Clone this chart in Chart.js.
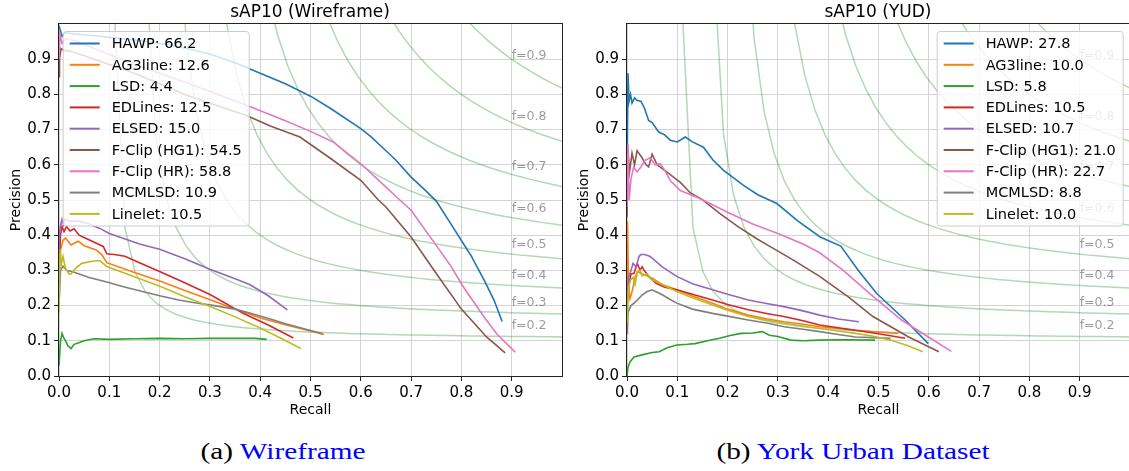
<!DOCTYPE html>
<html>
<head>
<meta charset="utf-8">
<script src="https://cdn.jsdelivr.net/npm/chart.js@4.4.0/dist/chart.umd.min.js"></script>
<style>
  body { margin: 0; background: #fff; width: 1129px; height: 471px; overflow: hidden; position: relative; font-family: "DejaVu Sans"; }
  canvas { position: absolute; top: 0; }
  #c1 { left: 0; width: 565px; height: 420px; }
  #c2 { left: 567px; width: 566px; height: 420px; }
  .ttl { position: absolute; top: 1px; font-size: 17px; line-height: 20px; white-space: nowrap; transform: translateX(-50%); }
  .cap { position: absolute; top: 437px; font-family: "Liberation Serif"; font-size: 24px; line-height: 28px; white-space: nowrap; transform: translateX(-50%) scaleX(1.22); }
  .cap span { color: #0000ff; }
</style>
</head>
<body>
<canvas id="c1" width="565" height="420"></canvas>
<canvas id="c2" width="566" height="420"></canvas>
<div class="ttl" style="left:310px">sAP10 (Wireframe)</div>
<div class="ttl" style="left:878px">sAP10 (YUD)</div>
<div class="cap" style="left:283px">(a) <span>Wireframe</span></div>
<div class="cap" style="left:853px">(b) <span>York Urban Dataset</span></div>
<script>
// methods, scores and colours
var methods = ["HAWP", "AG3line", "LSD", "EDLines", "ELSED", "F-Clip (HG1)", "F-Clip (HR)", "MCMLSD", "Linelet"];
var colors = ["#1f77b4", "#ff7f0e", "#2ca02c", "#d62728", "#9467bd", "#8c564b", "#e377c2", "#7f7f7f", "#bcbd22"];
var wfScores = [66.2, 12.6, 4.4, 12.5, 15.0, 54.5, 58.8, 10.9, 10.5];
var yudScores = [27.8, 10.0, 5.8, 10.5, 10.7, 21.0, 22.7, 8.8, 10.0];
var fScores = [0.2, 0.3, 0.4, 0.5, 0.6, 0.7, 0.8, 0.9];
var tickValues = [0, 0.1, 0.2, 0.3, 0.4, 0.5, 0.6, 0.7, 0.8, 0.9];

// Wireframe curves, [recall, precision]
var wfHAWP = [[0,0.995],[0.006,0.965],[0.012,0.975],[0.03,0.972],[0.06,0.968],[0.1,0.962],[0.15,0.955],[0.2,0.945],[0.25,0.932],[0.3,0.915],[0.35,0.89],[0.4,0.86],[0.45,0.83],[0.5,0.795],[0.54,0.76],[0.6,0.703],[0.62,0.68],[0.65,0.64],[0.67,0.613],[0.7,0.565],[0.73,0.525],[0.75,0.497],[0.78,0.43],[0.8,0.385],[0.82,0.34],[0.846,0.27],[0.865,0.215],[0.881,0.155]];
var wfAG3line = [[0,0.25],[0.003,0.36],[0.008,0.385],[0.013,0.392],[0.024,0.372],[0.038,0.383],[0.05,0.37],[0.074,0.358],[0.085,0.345],[0.095,0.322],[0.15,0.294],[0.202,0.269],[0.25,0.243],[0.302,0.216],[0.35,0.19],[0.402,0.164],[0.452,0.145],[0.527,0.118]];
var wfLSD = [[0,0.03],[0.003,0.1],[0.006,0.121],[0.009,0.11],[0.013,0.1],[0.018,0.085],[0.024,0.078],[0.03,0.09],[0.038,0.094],[0.05,0.1],[0.07,0.106],[0.1,0.104],[0.15,0.106],[0.2,0.107],[0.25,0.106],[0.3,0.107],[0.35,0.107],[0.39,0.107],[0.413,0.104]];
var wfEDLines = [[0,0.3],[0.003,0.4],[0.006,0.425],[0.01,0.41],[0.015,0.425],[0.022,0.412],[0.03,0.418],[0.04,0.4],[0.052,0.392],[0.07,0.38],[0.088,0.368],[0.095,0.347],[0.11,0.345],[0.131,0.34],[0.16,0.322],[0.2,0.297],[0.25,0.265],[0.302,0.23],[0.366,0.178],[0.416,0.145],[0.466,0.108]];
var wfELSED = [[0,0.36],[0.002,0.42],[0.006,0.445],[0.009,0.43],[0.012,0.447],[0.02,0.44],[0.04,0.44],[0.06,0.432],[0.08,0.42],[0.1,0.405],[0.13,0.39],[0.16,0.375],[0.2,0.36],[0.25,0.333],[0.3,0.303],[0.35,0.276],[0.38,0.259],[0.416,0.228],[0.454,0.188]];
var wfFClipHG1 = [[0,0.85],[0.001,0.9],[0.004,0.93],[0.01,0.925],[0.025,0.922],[0.06,0.905],[0.1,0.885],[0.15,0.86],[0.2,0.83],[0.25,0.8],[0.3,0.775],[0.373,0.74],[0.42,0.71],[0.479,0.679],[0.538,0.62],[0.6,0.556],[0.635,0.5],[0.65,0.48],[0.7,0.395],[0.75,0.291],[0.8,0.19],[0.85,0.111],[0.887,0.066]];
var wfFClipHR = [[0,0.9],[0.002,0.97],[0.006,0.945],[0.012,0.958],[0.03,0.953],[0.08,0.925],[0.15,0.885],[0.2,0.86],[0.25,0.835],[0.3,0.808],[0.373,0.769],[0.45,0.725],[0.5,0.695],[0.545,0.665],[0.6,0.603],[0.64,0.55],[0.67,0.51],[0.7,0.471],[0.75,0.371],[0.78,0.31],[0.803,0.255],[0.843,0.172],[0.87,0.12],[0.907,0.068]];
var wfMCMLSD = [[0,0.2],[0.003,0.3],[0.008,0.312],[0.015,0.3],[0.03,0.295],[0.06,0.28],[0.095,0.267],[0.13,0.253],[0.166,0.24],[0.2,0.228],[0.238,0.216],[0.27,0.208],[0.309,0.2],[0.35,0.19],[0.381,0.178],[0.42,0.162],[0.452,0.148],[0.524,0.12]];
var wfLinelet = [[0,0.18],[0.002,0.36],[0.005,0.32],[0.008,0.34],[0.013,0.305],[0.02,0.29],[0.024,0.29],[0.031,0.303],[0.045,0.32],[0.066,0.326],[0.081,0.328],[0.095,0.311],[0.131,0.292],[0.202,0.254],[0.25,0.225],[0.302,0.197],[0.35,0.168],[0.402,0.135],[0.44,0.108],[0.481,0.078]];

// YUD curves, [recall, precision]
var yudHAWP = [[0,0.55],[0.002,0.86],[0.004,0.78],[0.007,0.8],[0.01,0.775],[0.015,0.79],[0.02,0.783],[0.028,0.78],[0.035,0.76],[0.043,0.726],[0.05,0.72],[0.063,0.693],[0.075,0.685],[0.086,0.67],[0.1,0.665],[0.116,0.679],[0.13,0.665],[0.152,0.65],[0.17,0.615],[0.192,0.584],[0.231,0.542],[0.26,0.515],[0.298,0.49],[0.34,0.44],[0.384,0.395],[0.425,0.369],[0.46,0.3],[0.496,0.235],[0.553,0.159],[0.599,0.092]];
var yudAG3line = [[0,0.12],[0.001,0.44],[0.003,0.25],[0.006,0.22],[0.011,0.245],[0.016,0.28],[0.021,0.297],[0.03,0.29],[0.04,0.285],[0.05,0.278],[0.07,0.26],[0.099,0.245],[0.13,0.227],[0.17,0.207],[0.2,0.19],[0.241,0.173],[0.28,0.162],[0.312,0.154],[0.35,0.147],[0.383,0.14],[0.42,0.135],[0.454,0.13],[0.5,0.125],[0.539,0.121]];
var yudLSD = [[0,0],[0.002,0.026],[0.006,0.04],[0.014,0.054],[0.03,0.06],[0.05,0.067],[0.064,0.069],[0.08,0.08],[0.099,0.088],[0.12,0.09],[0.135,0.092],[0.16,0.1],[0.184,0.107],[0.205,0.115],[0.227,0.121],[0.25,0.122],[0.269,0.126],[0.283,0.116],[0.3,0.112],[0.326,0.102],[0.35,0.1],[0.383,0.102],[0.43,0.103],[0.493,0.102]];
var yudEDLines = [[0,0.2],[0.004,0.26],[0.008,0.29],[0.014,0.292],[0.018,0.31],[0.021,0.318],[0.026,0.3],[0.03,0.31],[0.035,0.298],[0.045,0.28],[0.057,0.264],[0.075,0.252],[0.099,0.245],[0.13,0.232],[0.17,0.216],[0.2,0.203],[0.241,0.188],[0.28,0.177],[0.312,0.169],[0.35,0.157],[0.383,0.145],[0.42,0.137],[0.454,0.13],[0.5,0.12],[0.553,0.107]];
var yudELSED = [[0,0.2],[0.003,0.28],[0.008,0.3],[0.012,0.32],[0.018,0.31],[0.024,0.34],[0.028,0.345],[0.035,0.345],[0.045,0.34],[0.05,0.335],[0.07,0.31],[0.099,0.283],[0.13,0.262],[0.17,0.245],[0.2,0.232],[0.241,0.216],[0.28,0.205],[0.312,0.197],[0.35,0.185],[0.383,0.173],[0.42,0.162],[0.461,0.154]];
var yudFClipHG1 = [[0,0.45],[0.002,0.64],[0.005,0.58],[0.01,0.633],[0.015,0.6],[0.02,0.64],[0.03,0.62],[0.038,0.6],[0.043,0.594],[0.05,0.63],[0.06,0.6],[0.086,0.572],[0.106,0.55],[0.126,0.52],[0.149,0.502],[0.185,0.461],[0.22,0.425],[0.258,0.39],[0.283,0.369],[0.33,0.33],[0.383,0.283],[0.44,0.225],[0.489,0.169],[0.56,0.111],[0.62,0.069]];
var yudFClipHR = [[0,0.48],[0.002,0.66],[0.004,0.5],[0.008,0.56],[0.013,0.593],[0.02,0.58],[0.027,0.592],[0.035,0.612],[0.046,0.62],[0.056,0.6],[0.066,0.603],[0.075,0.585],[0.086,0.555],[0.106,0.527],[0.139,0.508],[0.165,0.49],[0.2,0.465],[0.25,0.432],[0.3,0.405],[0.35,0.375],[0.383,0.35],[0.43,0.3],[0.482,0.235],[0.546,0.159],[0.6,0.11],[0.645,0.07]];
var yudMCMLSD = [[0,0.12],[0.002,0.18],[0.004,0.188],[0.008,0.2],[0.014,0.207],[0.02,0.215],[0.03,0.23],[0.04,0.24],[0.05,0.245],[0.06,0.238],[0.071,0.23],[0.085,0.218],[0.099,0.207],[0.13,0.19],[0.17,0.178],[0.2,0.17],[0.241,0.159],[0.28,0.15],[0.312,0.14],[0.35,0.133],[0.383,0.126],[0.42,0.118],[0.454,0.111],[0.49,0.109],[0.524,0.107]];
var yudLinelet = [[0,0.15],[0.003,0.25],[0.007,0.273],[0.012,0.28],[0.016,0.26],[0.021,0.297],[0.026,0.3],[0.03,0.285],[0.04,0.29],[0.05,0.273],[0.07,0.26],[0.099,0.24],[0.13,0.222],[0.17,0.202],[0.2,0.187],[0.241,0.169],[0.28,0.158],[0.312,0.15],[0.35,0.142],[0.383,0.135],[0.42,0.128],[0.454,0.121],[0.49,0.113],[0.524,0.102],[0.56,0.085],[0.588,0.069]];

Chart.defaults.font.family = "DejaVu Sans";
Chart.defaults.color = "#000";

// recall samples for the iso-F guide lines (50 points from 0.01 to 1)
var isoX = [];
for (var k = 0; k < 50; k++) isoX.push(0.01 + k * 0.99 / 49);

function isoCurve(f) {
  var pts = [];
  isoX.forEach(function (r) {
    var p = f * r / (2 * r - f);
    if (p >= 0) pts.push({x: r, y: p});
  });
  return pts;
}

// frame, iso-F labels, axis titles and legend box
var paperPlugin = {
  id: "paper",
  afterDatasetsDraw: function (chart, args, opts) {
    var ctx = chart.ctx, a = chart.chartArea;
    var xs = chart.scales.x, ys = chart.scales.y;
    ctx.save();

    ctx.font = '12.5px "DejaVu Sans"';
    ctx.fillStyle = "rgba(0,0,0,0.4)";
    ctx.textAlign = "left";
    ctx.textBaseline = "alphabetic";
    fScores.forEach(function (f) {
      var r = isoX[45];
      var p = f * r / (2 * r - f) + 0.02;
      ctx.fillText("f=" + f.toFixed(1), xs.getPixelForValue(0.9), ys.getPixelForValue(p));
    });

    // legend
    ctx.font = '14.5px "DejaVu Sans"';
    var tw = 0;
    opts.labels.forEach(function (t) { tw = Math.max(tw, ctx.measureText(t).width); });
    var bw = 7 + 30 + 12 + tw + 7, bh = 194.5;
    var bx = opts.side === "left" ? a.left + 3.7 : a.right - 7.3 - bw;
    var by = a.top + 7;
    ctx.beginPath();
    ctx.roundRect(bx + 0.5, by + 0.5, bw, bh, 3);
    ctx.fillStyle = "rgba(255,255,255,0.8)";
    ctx.fill();
    ctx.strokeStyle = "#cccccc";
    ctx.lineWidth = 1;
    ctx.stroke();
    ctx.textBaseline = "middle";
    opts.labels.forEach(function (t, i) {
      var y = by + 12.5 + i * 21.3;
      ctx.beginPath();
      ctx.moveTo(bx + 7, y);
      ctx.lineTo(bx + 37, y);
      ctx.strokeStyle = colors[i];
      ctx.lineWidth = 2;
      ctx.stroke();
      ctx.fillStyle = "#000";
      ctx.fillText(t, bx + 49, y + 1);
    });

    // frame
    ctx.strokeStyle = "#222";
    ctx.lineWidth = 1;
    ctx.strokeRect(Math.round(a.left) - 0.5, Math.round(a.top) - 0.5, Math.round(a.right - a.left) + 1, Math.round(a.bottom - a.top) + 1);

    // axis titles
    ctx.fillStyle = "#000";
    ctx.font = '14px "DejaVu Sans"';
    ctx.textAlign = "center";
    ctx.textBaseline = "middle";
    ctx.fillText("Recall", (a.left + a.right) / 2, 410);
    ctx.translate(a.left - 43, (a.top + a.bottom) / 2);
    ctx.rotate(-Math.PI / 2);
    ctx.fillText("Precision", 0, 0);
    ctx.restore();
  }
};

function makeChart(canvasId, series, scores, side, yWidth) {
  var datasets = [];
  fScores.forEach(function (f) {
    datasets.push({
      data: isoCurve(f),
      borderColor: "rgba(0,128,0,0.3)",
      borderWidth: 1.5,
      pointRadius: 0,
      order: 20
    });
  });
  series.forEach(function (s, i) {
    datasets.push({
      label: methods[i],
      data: s.map(function (d) { return {x: d[0], y: d[1]}; }),
      borderColor: colors[i],
      borderWidth: 1.6,
      pointRadius: 0,
      order: 10 - i
    });
  });
  var labels = methods.map(function (m, i) { return m + ": " + scores[i].toFixed(1); });

  var axis = function (fit) {
    return {
      type: "linear",
      min: 0,
      max: 1,
      afterBuildTicks: function (s) {
        s.ticks = tickValues.map(function (v) { return {value: v}; });
      },
      afterFit: fit,
      ticks: {
        font: {size: 15},
        color: "#000",
        padding: 3,
        maxRotation: 0,
        autoSkip: false,
        callback: function (v) { return Number(v).toFixed(1); }
      },
      grid: {
        color: "#d4d4d4",
        lineWidth: 1,
        tickLength: 5,
        tickColor: "#222",
        tickWidth: 1
      },
      border: {display: false}
    };
  };

  return new Chart(document.getElementById(canvasId), {
    type: "line",
    data: {datasets: datasets},
    options: {
      responsive: false,
      animation: false,
      layout: {padding: {top: 24, right: 3, left: 0, bottom: 0}},
      plugins: {
        legend: {display: false},
        tooltip: {enabled: false},
        paper: {labels: labels, side: side}
      },
      scales: {
        x: axis(function (s) { s.height = 44; }),
        y: axis(function (s) { s.width = yWidth; })
      }
    },
    plugins: [paperPlugin]
  });
}

makeChart("c1", [wfHAWP, wfAG3line, wfLSD, wfEDLines, wfELSED, wfFClipHG1, wfFClipHR, wfMCMLSD, wfLinelet], wfScores, "left", 59);
makeChart("c2", [yudHAWP, yudAG3line, yudLSD, yudEDLines, yudELSED, yudFClipHG1, yudFClipHR, yudMCMLSD, yudLinelet], yudScores, "right", 60);
</script>
</body>
</html>
